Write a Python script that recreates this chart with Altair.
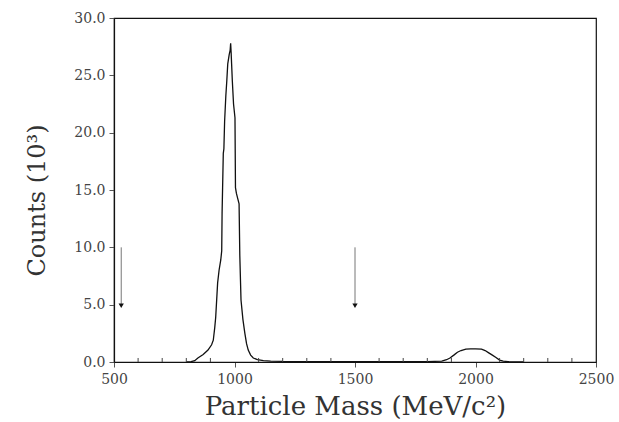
import altair as alt
import pandas as pd

# Histogram outline (mass in MeV/c^2, counts in thousands)
mass = [800, 820, 835, 848, 870, 890, 905, 912, 918, 922, 930, 936, 943, 947, 948.5,
        953.5, 956, 959, 964, 968, 972, 978, 982, 984, 986, 988, 991, 996, 1002,
        1004, 1008, 1014, 1019, 1022, 1027, 1035, 1043, 1050, 1057, 1067, 1078,
        1095, 1120, 1150, 1200, 1400, 1600, 1800, 1860, 1880, 1894, 1910, 1925,
        1940, 1960, 1980, 2000, 2025, 2040, 2055, 2070, 2085, 2100, 2115, 2135, 2200]
counts = [0.0, 0.03, 0.12, 0.35, 0.65, 1.04, 1.5, 1.9, 3.0, 3.9, 6.9, 8.0, 8.9, 9.7, 13.0,
          18.2, 18.6, 21.0, 23.2, 24.5, 26.0, 26.8, 27.2, 27.8, 27.0, 26.0, 24.5, 22.5, 21.3,
          15.2, 14.7, 14.2, 13.8, 9.3, 5.4, 3.7, 2.5, 1.6, 1.04, 0.6, 0.35,
          0.2, 0.12, 0.08, 0.05, 0.03, 0.03, 0.04, 0.08, 0.2, 0.35, 0.6, 0.85,
          1.0, 1.13, 1.15, 1.15, 1.13, 1.0, 0.8, 0.6, 0.4, 0.17, 0.08, 0.03, 0.0]

arrow_x = [530, 1500]
arrow_top = [10.0, 10.0]
arrow_tip = [4.9, 4.9]

x_major = [500, 1000, 1500, 2000, 2500]
x_minor = [600, 700, 800, 900, 1100, 1200, 1300, 1400, 1600, 1700, 1800, 1900,
           2100, 2200, 2300, 2400]
y_major = [0, 5, 10, 15, 20, 25, 30]

df = pd.DataFrame({"mass": mass, "counts": counts, "i": range(len(mass))})
arrows = pd.DataFrame({"x": arrow_x, "top": arrow_top, "tip": arrow_tip})
minor = pd.DataFrame({"x": x_minor})

FONT = "DejaVu Serif"

xs = alt.Scale(domain=[500, 2500], nice=False)
ys = alt.Scale(domain=[0, 30], nice=False)

line = alt.Chart(df).mark_line(color="#111", strokeWidth=1.3).encode(
    x=alt.X("mass:Q", scale=xs,
            axis=alt.Axis(values=x_major, format="d", title="Particle Mass (MeV/c²)")),
    y=alt.Y("counts:Q", scale=ys,
            axis=alt.Axis(values=y_major, format=".1f", title="Counts (10³)", titleY=182)),
    order="i:Q",
)

shaft = alt.Chart(arrows).mark_rule(color="#777", strokeWidth=1).encode(
    x="x:Q", y="top:Q", y2="tip:Q"
)
head = alt.Chart(arrows).mark_point(shape="triangle-down", filled=True, color="#111",
                                    size=28, opacity=1).encode(
    x="x:Q", y="tip:Q"
)
ticks = alt.Chart(minor).mark_rule(color="#444", strokeWidth=1).encode(
    x="x:Q", y=alt.datum(0), y2=alt.datum(0.35)
)

chart = alt.layer(line, ticks, shaft, head).properties(
    width=482, height=344,
    autosize=alt.AutoSizeParams(type="none"),
    padding={"left": 114, "top": 18, "right": 23, "bottom": 60},
).configure_view(
    stroke="#111", strokeWidth=1.2
).configure_axis(
    grid=False,
    domainColor="#111", domainWidth=1.2,
    tickColor="#555", tickSize=5,
    labelFont=FONT, labelFontSize=14, labelColor="#444",
    labelFlush=False,
    titleFont=FONT, titleFontSize=26, titleFontWeight="normal", titleColor="#333",
).configure_axisX(
    labelPadding=5, titlePadding=7,
).configure_axisY(
    labelPadding=4, titlePadding=24, titleFontSize=24,
)

chart.save("out.html", embed_options={"renderer": "svg", "actions": False})
